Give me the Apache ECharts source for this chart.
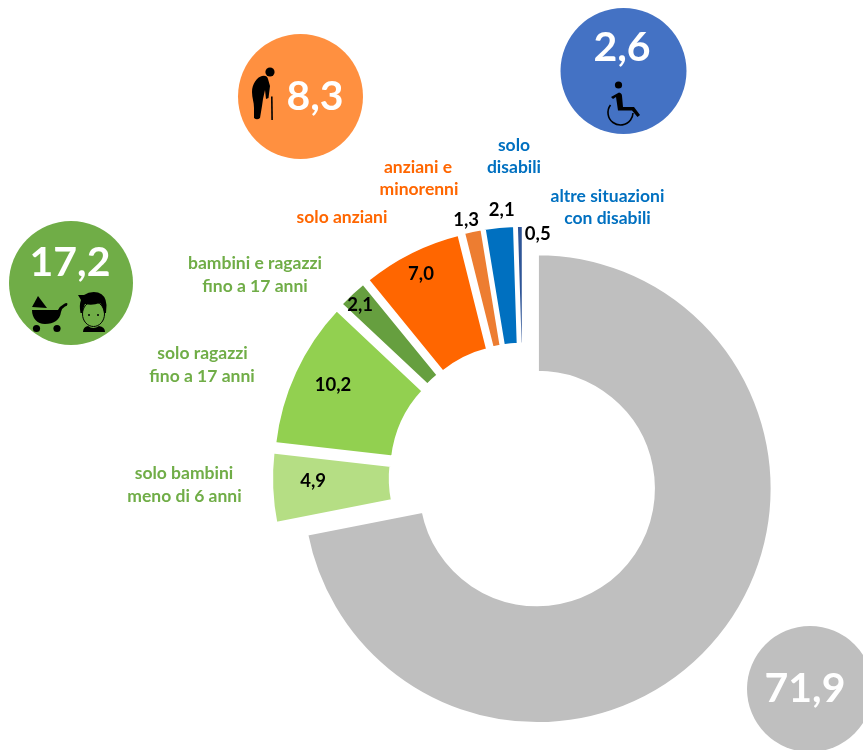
<!DOCTYPE html>
<html>
<head>
<meta charset="utf-8">
<title>Carico sociale</title>
<style>html,body{margin:0;padding:0;background:#fff}#c{width:863px;height:750px}</style>
<script src="https://cdn.jsdelivr.net/npm/echarts@6/dist/echarts.min.js"></script>
</head>
<body>
<div id="c"></div>
<script>
const categories = ['nessun carico sociale','solo bambini meno di 6 anni','solo ragazzi fino a 17 anni','bambini e ragazzi fino a 17 anni','solo anziani','anziani e minorenni','solo disabili','altre situazioni con disabili'];
const values = [71.9,4.9,10.2,2.1,7.0,1.3,2.1,0.5];
const sliceColors = ['#BFBFBF','#B5DE84','#92D050','#669F3F','#FF6600','#ED7D31','#0070C0','#2F5597'];
const valueLabelOffsets = [[0,0],[-15,-4.5],[-13,-10],[-30,-29],[-15,-28],[-18,-66],[-3,-73],[17,-48]];
const captionLines = ['solo bambini','meno di 6 anni','solo ragazzi','fino a 17 anni','bambini e ragazzi','fino a 17 anni','solo anziani','anziani e','minorenni','solo','disabili','altre situazioni','con disabili','nessun carico','sociale'];
const captionX = [184,184.5,202.5,202,255,255,342,418,419,514,514,607.5,607.5,653.5,653.5];
const captionY = [473,496,353,376,263,286,217,167,189,145,167,196,218,619,642];
const captionColors = ['#70AD47','#70AD47','#70AD47','#70AD47','#70AD47','#70AD47','#FF6600','#FF6600','#FF6600','#0070C0','#0070C0','#0070C0','#0070C0','#000','#000'];
const badgeValues = ['17,2','8,3','2,6','71,9'];
const badgeColors = ['#70AD47','#FF9040','#4472C4','#BFBFBF'];
const badgeCircles = [[71,283,62],[300.5,96.5,62.5],[623.5,71,63],[810,689,63]];
const badgeTextPos = [[70,263],[315,97],[622,48],[805,689]];

const FONT = 'Lato, "Open Sans", sans-serif';
const fmt = v => v.toFixed(1).replace('.', ',');
const graphics = [];
badgeCircles.forEach((c,i)=>{
  graphics.push({type:'circle',silent:true,z:1,shape:{cx:c[0],cy:c[1],r:c[2]},style:{fill:badgeColors[i]}});
  graphics.push({type:'text',silent:true,z:2,x:badgeTextPos[i][0],y:badgeTextPos[i][1],style:{text:badgeValues[i],fill:'#fff',font:'bold 41px '+FONT,textAlign:'center',textVerticalAlign:'middle'}});
});
captionLines.forEach((t,i)=>{
  graphics.push({type:'text',silent:true,z:2,x:captionX[i],y:captionY[i],style:{text:t,fill:captionColors[i],font:'bold 17.5px '+FONT,textAlign:'center',textVerticalAlign:'middle'}});
});
let iconId = 0;
const icon = (d,extra)=>{
  const name = 'iconShape'+(iconId++);
  echarts.graphic.registerShape(name, echarts.graphic.extendPath(d,{}));
  return {type:name,silent:true,z:3,style:Object.assign({fill:'#000'},extra||{})};
};
const dot = (cx,cy,r,extra)=>({type:'circle',silent:true,z:3,shape:{cx,cy,r},style:Object.assign({fill:'#000'},extra||{})});
// anziano
graphics.push(dot(270,72,4.6));
graphics.push(icon('M262 76 Q267 75 268 79 L270 86 L268.5 98 L266 99 L265 90 L263 99 L262 106 L260 118 Q257 120.5 254 118 L254 108 C254 102 252 98 252 92 C252 84 257 77 262 76 Z'));
graphics.push(icon('M271 96.5 L272.6 96.5 L272.9 120 L271.3 120 Z'));
// passeggino
graphics.push(icon('M32 307 L38 296 L47 308 Z'));
graphics.push(icon('M32 310 L58 310 Q60 306 64 304 Q67 302 67.5 304 Q67.5 306 65 306.5 Q62 308 61 312 C60 320 54 324 45 324 C37 324 32 318 32 310 Z'));
graphics.push(dot(36.5,328.5,3.6));
graphics.push(dot(57,328.5,3.6));
// ragazzo
graphics.push({type:'ellipse',silent:true,z:3,shape:{cx:93.5,cy:314,rx:11,ry:12.5},style:{fill:'#70AD47',stroke:'#000',lineWidth:1}});
graphics.push(icon('M78 295 L84 295 Q90 291 98 292.5 Q106 295 106.5 305 L106 313 L104 313 Q103 306 100 303 Q92 306 85 304 Q83 308 82.5 313 L80.5 313 Q79 305 81 300 Z'));
graphics.push(dot(89,315,1));
graphics.push(dot(98,315,1));
graphics.push(icon('M83 332 Q83 327 88 326 Q93 330 99 326 Q105 327 105 332 Z'));
// sedia a rotelle
graphics.push(dot(618.5,85,3.6));
graphics.push(icon('M611 97 L619 92.5 Q622 93 622 96 L623 107 L634 107 L640 115 L637.5 117 L632 110.5 L618 110.5 L616 97 L613 99 Z'));
graphics.push(icon('M610.5 105 A 12.5 12.5 0 1 0 633 113',{fill:'none',stroke:'#000',lineWidth:1.6}));

const data = values.map((v,i)=>({
  value:v,name:categories[i],selected:true,
  itemStyle:{color:sliceColors[i]},
  select:{itemStyle:{color:sliceColors[i],borderColor:'#fff',borderWidth:3.5}},
  label:{show:i>0}
}));
const chart = echarts.init(document.getElementById('c'),null,{renderer:'canvas'});
chart.setOption({
  animation:false,
  backgroundColor:'#fff',
  tooltip:{show:false},
  series:[{
    type:'pie',z:2,
    center:[523.8,477.6],radius:[116,235.2],startAngle:90,clockwise:true,
    selectedMode:'multiple',selectedOffset:17.3,
    avoidLabelOverlap:false,minShowLabelAngle:0,
    itemStyle:{borderColor:'#fff',borderWidth:3.5},
    emphasis:{disabled:true},
    label:{position:'inside',rotate:0,formatter:p=>fmt(p.value),color:'#000',fontFamily:FONT,fontWeight:'bold',fontSize:18.5},
    labelLine:{show:false},
    labelLayout:p=>({dx:valueLabelOffsets[p.dataIndex][0],dy:valueLabelOffsets[p.dataIndex][1],hideOverlap:false,moveOverlap:false}),
    data
  }],
  graphic:{elements:graphics}
});
</script>
</body>
</html>
